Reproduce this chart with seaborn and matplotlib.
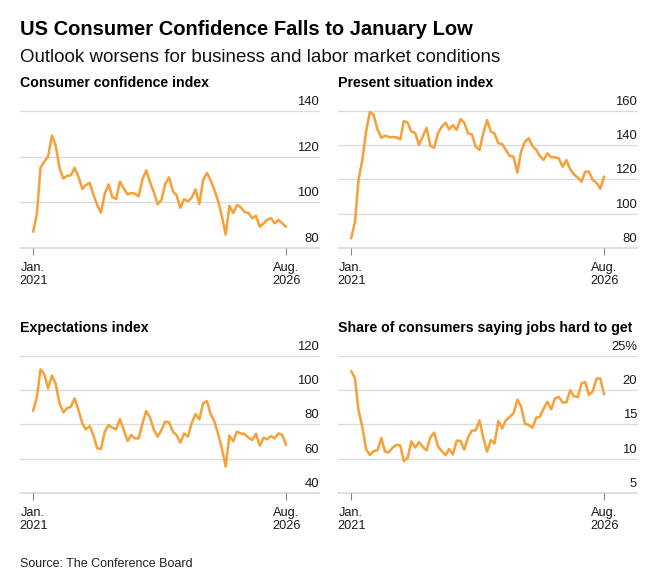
import numpy as np
import pandas as pd
import matplotlib
matplotlib.use("Agg")
import matplotlib.pyplot as plt
from matplotlib.transforms import ScaledTranslation
import seaborn as sns

sns.set_theme(style="white")
plt.rcParams['font.family'] = ['Liberation Sans', 'DejaVu Sans']

months = pd.date_range("2021-01-01", "2026-08-01", freq="MS")

confidence = [87, 95.1, 115.1, 117.8, 120, 129.2, 125, 115.1, 110.4, 111.5, 111.8, 115.1,
              111.2, 105.8, 107.5, 108.5, 103.4, 98.7, 95.4, 103.7, 107.8, 102.2, 101.4, 109,
              106, 103.4, 104, 103.7, 102.5, 110.1, 114, 108.7, 104.3, 99.1, 101, 108,
              110.9, 104.8, 103.1, 97.5, 101.3, 100.4, 101.9, 105.6, 99.2, 109.6, 112.8, 109.5,
              105.3, 100.1, 93.9, 85.7, 98.4, 95.2, 98.7, 97.8, 95.6, 95.3, 92.9, 94.0,
              89.2, 90.7, 92.2, 93.0, 90.7, 92.2, 90.7, 89.2]

present = [85.5, 95.2, 119.6, 131.3, 147.9, 159.6, 157.7, 149.3, 144.4, 145.6, 144.8, 144.8,
           144.6, 143.4, 154.1, 153.2, 147.9, 147.3, 140.1, 145, 150.2, 139.5, 138.5, 146.9,
           150.8, 153.2, 149.3, 151.8, 148.9, 155.3, 153.2, 146.9, 146.3, 139.1, 137.2, 146.9,
           154.7, 147.9, 146.9, 141.1, 140.7, 137.2, 133.7, 133.3, 123.9, 136.2, 142, 144,
           139.5, 137.2, 133.7, 131.3, 135.2, 132.9, 132.9, 132.3, 127.4, 131.3, 125.9, 122.9,
           121, 118.6, 124.5, 124.5, 119.6, 118, 114.5, 121.6]

expectations = [88, 96.2, 112.2, 109.3, 101.1, 108.5, 104, 92.3, 87, 89.4, 90.3, 95.2,
                88.4, 80.6, 77.1, 79, 73.8, 66, 65.6, 75.7, 79.6, 78, 77.1, 83.1,
                76.7, 70.2, 73.8, 71.8, 71.8, 80.6, 87.8, 83.9, 76.7, 72.8, 76.7, 81.6,
                81.2, 75.7, 73.8, 69.3, 74.7, 72.8, 80.6, 86, 82.9, 92.3, 93.7, 86,
                81.6, 73.8, 66, 55.2, 73.4, 70.2, 75.7, 74.7, 74.3, 72.2, 70.8, 74.5,
                67.5, 72.2, 71.2, 73.2, 71.8, 74.7, 73.8, 67.9]

jobs_hard = [22.8, 21.7, 17.1, 14.6, 11.4, 10.5, 11.1, 11.2, 13, 11, 10.9, 11.6,
             12, 11.9, 9.6, 10.1, 12.5, 11.6, 12.4, 11.7, 11.2, 13.1, 13.8, 11.8,
             11.1, 10.5, 11.4, 10.6, 12.6, 12.6, 11.3, 13.1, 14.1, 14.1, 15.6, 13.1,
             11.0, 12.7, 12.2, 15.5, 14.4, 15.6, 16.1, 16.6, 18.6, 17.6, 15.1, 14.9,
             14.5, 16, 16.1, 17.3, 18.3, 17.2, 18.8, 19.0, 18.2, 18.2, 20, 19.1,
             19, 21, 21.2, 19.3, 19.8, 21.7, 21.7, 19.4]

titles = ["Consumer confidence index", "Present situation index",
          "Expectations index", "Share of consumers saying jobs hard to get"]
series = [confidence, present, expectations, jobs_hard]
yticks = [[80, 100, 120, 140], [80, 100, 120, 140, 160], [40, 60, 80, 100, 120], [5, 10, 15, 20, 25]]
ytick_labels = [None, None, None, ["5", "10", "15", "20", "25%"]]
x_labels = ["Jan.\n2021", "Aug.\n2026"]

LINE = "#f6a037"
GRID = "#dcdcdc"

W, H = 664, 588
fig = plt.figure(figsize=(W / 100, H / 100), dpi=100)

def fx(px):
    return px / W

def fy(px):
    return 1 - px / H

boxes = [(20, 111, 247.7), (338, 111, 247.7), (20, 356, 492.7), (338, 356, 492.7)]
axw = 299

left_pad = pd.Timedelta(days=106)
right_pad = pd.Timedelta(days=265)

for i, (x0, ytop, ybot) in enumerate(boxes):
    ax = fig.add_axes([fx(x0), fy(ybot), axw / W, (ybot - ytop) / H])
    df = pd.DataFrame({"date": months, "value": series[i]})
    sns.lineplot(data=df, x="date", y="value", ax=ax, color=LINE, linewidth=1.8)
    ticks = yticks[i]
    ax.set_ylim(ticks[0], ticks[-1])
    ax.set_xlim(months[0] - left_pad, months[-1] + right_pad)
    ax.set_xlabel("")
    ax.set_ylabel("")
    for s in ax.spines.values():
        s.set_visible(False)
    for t in ticks:
        ax.axhline(t, color=GRID, lw=1.0 if t != ticks[0] else 1.3, zorder=0, clip_on=False)
    ax.set_yticks(ticks)
    ax.set_yticklabels([])
    ax.tick_params(axis="y", length=0)
    labs = ytick_labels[i] if ytick_labels[i] else [str(t) for t in ticks]
    off = ScaledTranslation(0, 3 / 100, fig.dpi_scale_trans)
    for t, lab in zip(ticks, labs):
        ax.text(1.0, t, lab, transform=ax.get_yaxis_transform() + off,
                ha="right", va="bottom", fontsize=9.4, color="#1a1a1a")
    ax.set_xticks([months[0], months[-1]])
    ax.set_xticklabels(x_labels, fontsize=9.2, color="#1a1a1a", linespacing=1.15)
    ax.tick_params(axis="x", length=5, width=0.8, color="#888888", pad=5, bottom=True)
    ax.set_facecolor("none")
    ty = ytop - 24
    fig.text(fx(x0), fy(ty), titles[i], fontsize=10.2, fontweight="bold",
             color="#000000", ha="left", va="baseline")

fig.text(fx(20), fy(35), "US Consumer Confidence Falls to January Low",
         fontsize=14.5, fontweight="bold", color="#000000", ha="left", va="baseline")
fig.text(fx(20), fy(62.5), "Outlook worsens for business and labor market conditions",
         fontsize=13.5, color="#111111", ha="left", va="baseline")
fig.text(fx(20), fy(567), "Source: The Conference Board",
         fontsize=9.0, color="#222222", ha="left", va="baseline")

fig.savefig("out.png", dpi=100, facecolor="white")
